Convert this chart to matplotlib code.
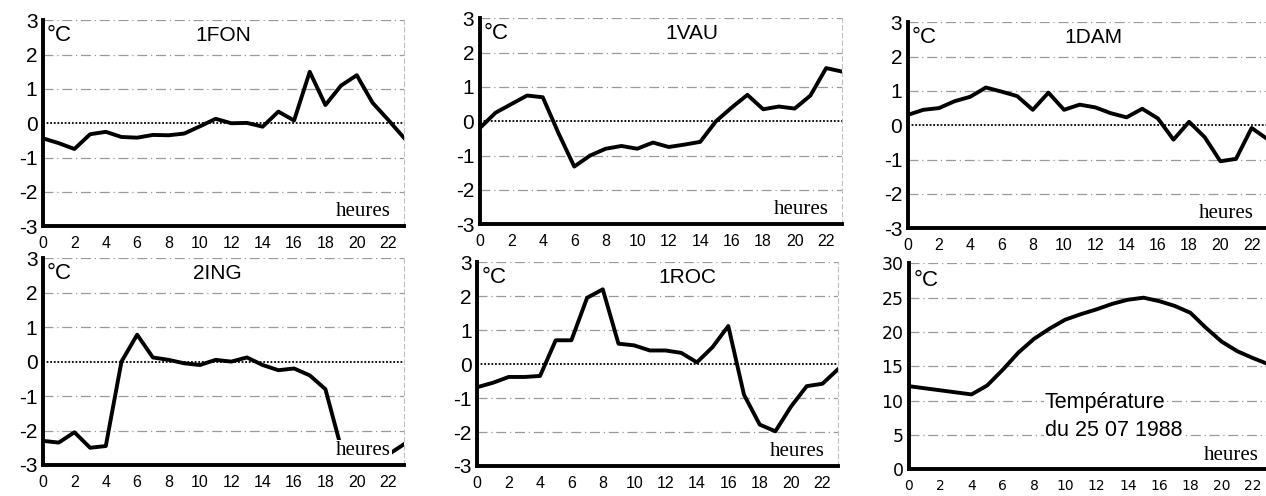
import numpy as np
import matplotlib
matplotlib.use("Agg")
import matplotlib.pyplot as plt

plt.rcParams["axes.unicode_minus"] = False

HOURS = list(range(24))

FON = [-0.44, -0.58, -0.75, -0.32, -0.25, -0.4, -0.42, -0.34, -0.35, -0.3, -0.09, 0.13,
       0.0, 0.01, -0.1, 0.34, 0.08, 1.5, 0.53, 1.1, 1.4, 0.6, 0.1, -0.42]
VAU = [-0.2, 0.25, 0.5, 0.75, 0.7, -0.35, -1.32, -1.0, -0.8, -0.72, -0.8, -0.62,
       -0.75, -0.68, -0.6, 0.0, 0.4, 0.77, 0.35, 0.43, 0.37, 0.75, 1.55, 1.45]
DAM = [0.3, 0.45, 0.5, 0.7, 0.83, 1.1, 0.98, 0.85, 0.45, 0.95, 0.45, 0.6,
       0.52, 0.35, 0.23, 0.48, 0.2, -0.42, 0.1, -0.35, -1.05, -0.98, -0.08, -0.4]
ING = [-2.3, -2.35, -2.05, -2.5, -2.45, 0.0, 0.78, 0.12, 0.05, -0.05, -0.1, 0.05,
       0.0, 0.12, -0.1, -0.25, -0.2, -0.4, -0.8, -2.5, -2.6, -2.65, -2.7, -2.4]
ROC = [-0.68, -0.55, -0.38, -0.38, -0.35, 0.7, 0.7, 1.95, 2.2, 0.6, 0.55, 0.4,
       0.4, 0.33, 0.05, 0.5, 1.12, -0.9, -1.78, -1.98, -1.25, -0.65, -0.58, -0.15]
TEMP = [12.1, 11.8, 11.5, 11.2, 10.9, 12.2, 14.5, 17.0, 19.0, 20.5, 21.8, 22.6,
        23.3, 24.1, 24.7, 25.0, 24.5, 23.8, 22.8, 20.6, 18.6, 17.2, 16.2, 15.3]

XTICKS = list(range(0, 23, 2))

fig = plt.figure(figsize=(12.66, 4.96), dpi=100)

# [left, bottom, width, height], series, name, title x position
panels = [
    ([0.034, 0.544, 0.285, 0.415], FON, "1FON", 11.5),
    ([0.379, 0.548, 0.286, 0.415], VAU, "1VAU", 13.5),
    ([0.717, 0.540, 0.284, 0.415], DAM, "1DAM", 11.85),
    ([0.034, 0.0625, 0.285, 0.417], ING, "2ING", 11.1),
    ([0.377, 0.0605, 0.285, 0.411], ROC, "1ROC", 13.4),
]


def style_axes(ax, yticks, gridvals, fs_y, family_y):
    ax.set_xlim(0, 23)
    ax.set_xticks(XTICKS)
    ax.set_yticks(yticks)
    for g in gridvals:
        ax.axhline(g, color="#9a9a9a", lw=0.9, ls=(0, (8, 3, 1, 3)), zorder=1)
    ax.spines["top"].set_visible(False)
    ax.spines["right"].set_color("#c0c0c0")
    ax.spines["right"].set_linewidth(0.8)
    ax.spines["right"].set_linestyle((0, (4, 3)))
    ax.spines["left"].set_linewidth(2.8)
    ax.spines["bottom"].set_linewidth(2.8)
    ax.tick_params(axis="both", length=0)
    ax.tick_params(axis="y", pad=4)
    ax.tick_params(axis="x", pad=7)
    for lab in ax.get_yticklabels():
        lab.set_fontsize(fs_y)
        lab.set_family(family_y)
    for lab in ax.get_xticklabels():
        lab.set_fontsize(11.5)
        lab.set_family(family_y)


for rect, vals, name, tx in panels:
    ax = fig.add_axes(rect)
    ax.set_ylim(-3, 3)
    style_axes(ax, range(-3, 4), [-2, -1, 1, 2, 3], 15, "Liberation Sans")
    ax.axhline(0, color="black", lw=1.3, ls=(0, (1, 1)), zorder=1)
    ax.plot(HOURS, vals, color="black", lw=2.8, zorder=3)
    ax.text(0.25, 2.55, "°C", fontsize=16, family="Liberation Sans", va="center", ha="left")
    ax.text(tx, 2.55, name, fontsize=15, family="Liberation Sans", va="center", ha="center")
    ax.text(20.4, -2.58, "heures", fontsize=15, family="Liberation Serif", va="center",
            ha="center", zorder=4,
            bbox=dict(facecolor="white", edgecolor="none", pad=1))

# temperature panel
ax = fig.add_axes([0.718, 0.054, 0.284, 0.415])
ax.set_ylim(0, 30)
style_axes(ax, range(0, 31, 5), [5, 10, 15, 20, 25, 30], 12.5, "DejaVu Sans")
for lab in ax.get_xticklabels():
    lab.set_fontsize(10)
ax.plot(HOURS, TEMP, color="black", lw=2.8, zorder=3)
ax.text(0.3, 27.5, "°C", fontsize=16, family="Liberation Sans", va="center", ha="left")
ax.text(8.7, 9.7, "Température", fontsize=15.5, family="Liberation Sans", va="center",
        ha="left", zorder=4, bbox=dict(facecolor="white", edgecolor="none", pad=1))
ax.text(8.7, 5.6, "du 25 07 1988", fontsize=15.5, family="Liberation Sans", va="center",
        ha="left", zorder=4, bbox=dict(facecolor="white", edgecolor="none", pad=1))
ax.text(20.6, 2.0, "heures", fontsize=15, family="Liberation Serif", va="center",
        ha="center", zorder=4, bbox=dict(facecolor="white", edgecolor="none", pad=1))

fig.savefig("out.png", dpi=100)
